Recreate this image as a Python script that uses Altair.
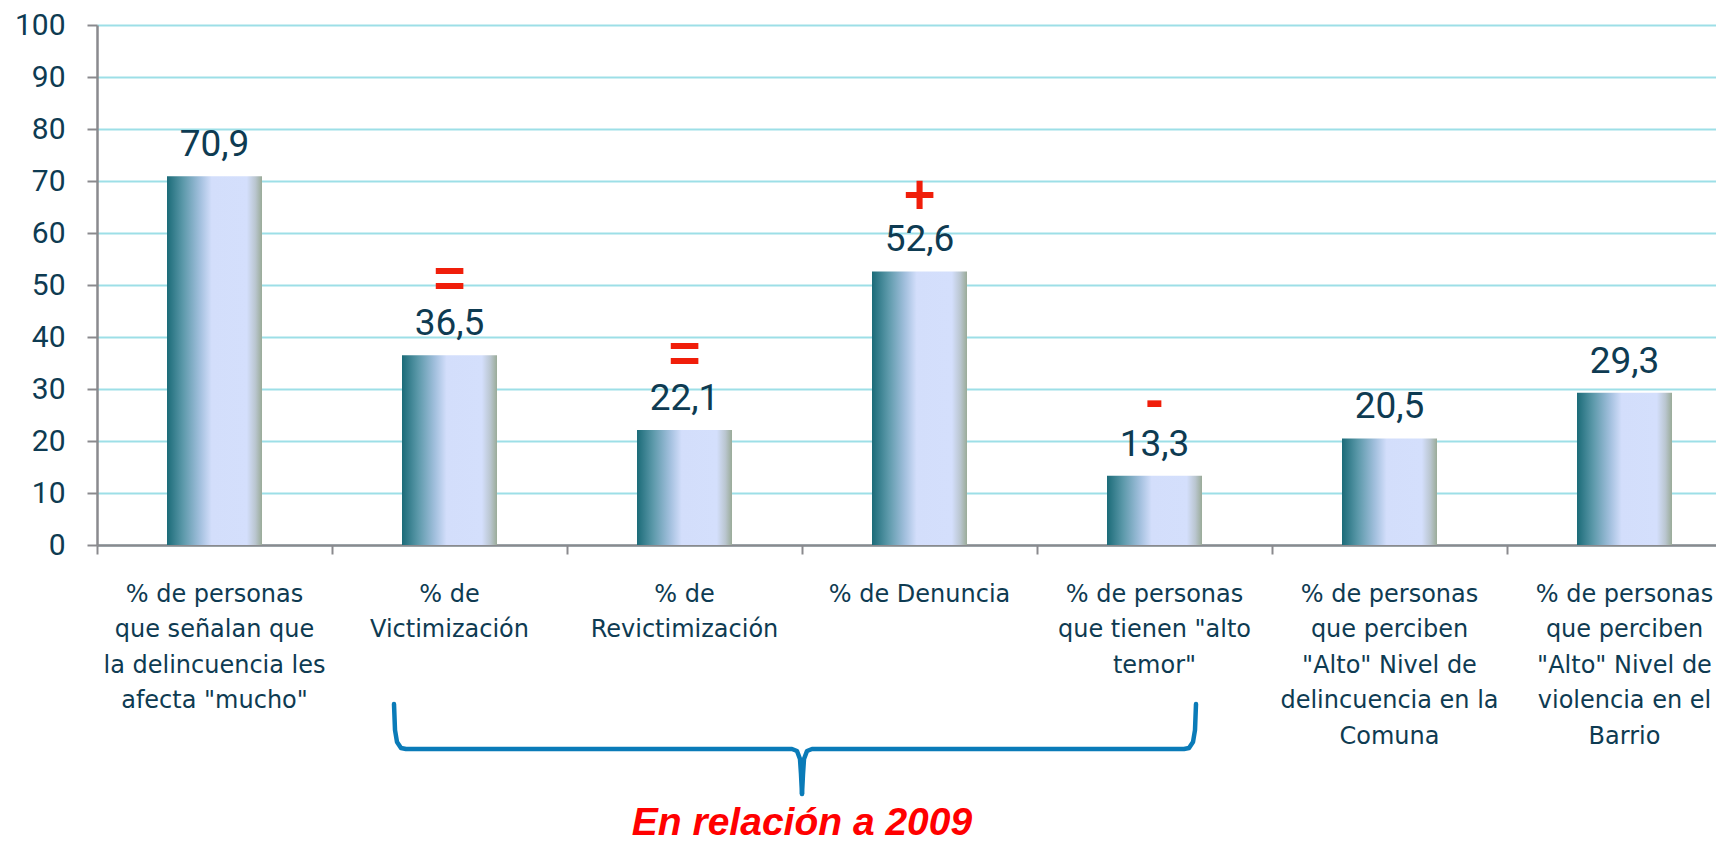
import altair as alt
import pandas as pd

# ---------------- data ----------------
categories = [
    "% de personas|que señalan que|la delincuencia les|afecta \"mucho\"",
    "% de|Victimización",
    "% de|Revictimización",
    "% de Denuncia",
    "% de  personas|que tienen \"alto|temor\"",
    "% de personas|que perciben|\"Alto\" Nivel de|delincuencia en la|Comuna",
    "% de personas|que perciben|\"Alto\" Nivel de|violencia en el|Barrio",
]
values = [70.9, 36.5, 22.1, 52.6, 13.3, 20.5, 29.3]
changes = ["", "=", "=", "+", "-", "", ""]
y_ticks = list(range(0, 101, 10))
bracket_note = "En relación a 2009"

# ---------------- layout / style ----------------
PLOT_W, PLOT_H = 1619, 520
BAND_PX = 235.0
PX_PER_UNIT_Y = PLOT_H / 100.0
x_max = PLOT_W / BAND_PX
BAR_HALF = 47.5 / BAND_PX

TEXT_COLOR = "#0e3b52"
AXIS_GRAY = "#8a8a8e"
GRID_COLOR = "#9ddfe7"
RED = "#f01e0a"
BRACE_COLOR = "#0a7bb8"

xscale = alt.Scale(domain=[0, x_max], nice=False, zero=False)
yscale = alt.Scale(domain=[0, 100], nice=False)

xaxis = alt.Axis(
    values=list(range(len(categories))), labels=False, title=None, grid=False,
    ticks=True, tickSize=9, tickWidth=2, tickColor=AXIS_GRAY,
    domainColor=AXIS_GRAY, domainWidth=2.5)
yaxis = alt.Axis(
    values=y_ticks, title=None, grid=True, gridColor=GRID_COLOR, gridWidth=2,
    tickSize=10, tickWidth=2, tickColor=AXIS_GRAY,
    domainColor=AXIS_GRAY, domainWidth=2.5,
    labelFont="Roboto", labelFontSize=30, labelColor=TEXT_COLOR, labelPadding=22)

df = pd.DataFrame({
    "cat": categories,
    "value": values,
    "change": changes,
    "idx": list(range(len(categories))),
})

base = alt.Chart(df).transform_calculate(
    center="datum.idx + 0.5",
    x0=f"datum.idx + 0.5 - {BAR_HALF}",
    x1=f"datum.idx + 0.5 + {BAR_HALF}",
    lines="split(datum.cat, '|')",
    label="replace(format(datum.value, '.1f'), '.', ',')",
    zero="0",
)

gradient = alt.Gradient(
    gradient="linear",
    x1=0, x2=1, y1=0, y2=0,
    stops=[
        alt.GradientStop(color="#1b6b78", offset=0),
        alt.GradientStop(color="#5c99aa", offset=0.17),
        alt.GradientStop(color="#a3c0de", offset=0.35),
        alt.GradientStop(color="#d3defb", offset=0.47),
        alt.GradientStop(color="#d4dffc", offset=0.84),
        alt.GradientStop(color="#bac6d0", offset=0.93),
        alt.GradientStop(color="#9aab98", offset=1),
    ],
)

bars = base.mark_rect(color=gradient).encode(
    x=alt.X("x0:Q", scale=xscale, axis=xaxis),
    x2="x1:Q",
    y=alt.Y("value:Q", scale=yscale, axis=yaxis),
    y2="zero:Q",
)

value_labels = base.mark_text(
    font="Roboto", fontSize=37, color=TEXT_COLOR, baseline="alphabetic", dy=-20
).encode(
    x=alt.X("center:Q", scale=xscale, axis=xaxis),
    y=alt.Y("value:Q", scale=yscale, axis=yaxis),
    text="label:N",
)

change_marks = base.transform_filter("datum.change != ''").mark_text(
    font="Liberation Sans", fontWeight="bold", fontSize=55, color=RED,
    baseline="middle", dy=-75
).encode(
    x=alt.X("center:Q", scale=xscale, axis=xaxis),
    y=alt.Y("value:Q", scale=yscale, axis=yaxis),
    text="change:N",
)

cat_labels = base.mark_text(
    font="DejaVu Sans", fontSize=24, color=TEXT_COLOR, baseline="alphabetic",
    align="center", lineHeight=35.4, dy=57
).encode(
    x=alt.X("center:Q", scale=xscale, axis=xaxis),
    y=alt.Y("zero:Q", scale=yscale, axis=yaxis),
    text="lines:N",
)

# ---------------- brace under the bracketed categories ----------------
br = [i for i, c in enumerate(changes) if c]
left_u = br[0] + 0.5 - 55.5 / BAND_PX
right_u = br[-1] + 0.5 + 41.5 / BAND_PX
mid_u = (br[0] + br[-1] + 1) / 2.0
Y_TOP, Y_MID, Y_TIP, Y_NOTE = 159, 204, 249, 290   # px below the zero line

def yv(px_below):
    return -px_below / PX_PER_UNIT_Y

half_shape = [  # (px from outer end toward centre, px below zero line)
    (0, Y_TOP), (1, Y_TOP + 26), (3, Y_TOP + 38), (7, Y_MID - 1), (12, Y_MID),
]
tip_shape = [  # (px from centre, px below zero line)
    (10, Y_MID), (5, Y_MID + 2), (2, Y_MID + 10), (1, Y_MID + 25), (0, Y_TIP),
]
rows = []
for side, end_u, sgn in (("L", left_u, 1), ("R", right_u, -1)):
    k = 0
    for dx, dy in half_shape:
        rows.append({"side": side, "k": k, "bx": end_u + sgn * dx / BAND_PX, "by": yv(dy)})
        k += 1
    for dx, dy in tip_shape:
        rows.append({"side": side, "k": k, "bx": mid_u - sgn * dx / BAND_PX, "by": yv(dy)})
        k += 1
brace_df = pd.DataFrame(rows)

brace = alt.Chart(brace_df).mark_line(
    color=BRACE_COLOR, strokeWidth=4.5, strokeCap="round", strokeJoin="round"
).encode(
    x=alt.X("bx:Q", scale=xscale, axis=xaxis),
    y=alt.Y("by:Q", scale=yscale, axis=yaxis),
    detail="side:N",
    order="k:Q",
)

note_df = pd.DataFrame({"t": [bracket_note], "nx": [mid_u], "ny": [yv(Y_NOTE)]})
note = alt.Chart(note_df).mark_text(
    font="Liberation Sans", fontWeight="bold", fontStyle="italic", fontSize=39,
    color="#ff0000", baseline="alphabetic", align="center"
).encode(
    x=alt.X("nx:Q", scale=xscale, axis=xaxis),
    y=alt.Y("ny:Q", scale=yscale, axis=yaxis),
    text="t:N",
)

chart = alt.layer(bars, value_labels, change_marks, cat_labels, brace, note).properties(
    width=PLOT_W,
    height=PLOT_H,
    autosize=alt.AutoSizeParams(type="none"),
    padding={"left": 89, "top": 17, "right": 0, "bottom": 291},
    background="white",
).configure_view(stroke=None)

chart.save("out.html", embed_options={"renderer": "svg", "actions": False})
